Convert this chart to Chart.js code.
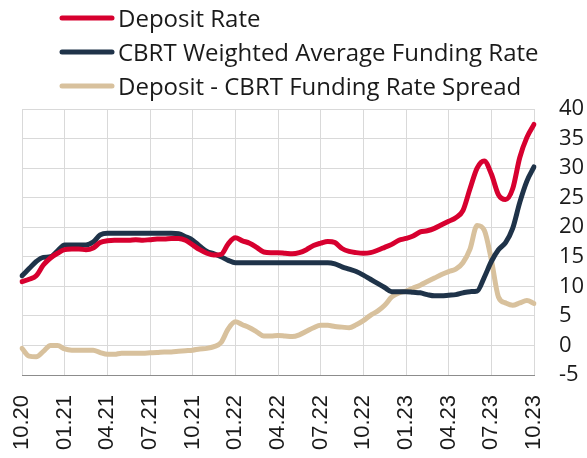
<!DOCTYPE html>
<html>
<head>
<meta charset="utf-8">
<script src="https://cdn.jsdelivr.net/npm/chart.js@4"></script>
<style>
    body { margin: 0; background: #fff; }
    canvas { display: block; }
</style>
</head>
<body>
<canvas id="rateChart" width="587" height="458"></canvas>
<script>
// Half-month observations, 10.20 - 10.23
const periods = [
    '01.10.20', '16.10.20', '01.11.20', '16.11.20', '01.12.20', '16.12.20',
    '01.01.21', '16.01.21', '01.02.21', '16.02.21', '01.03.21', '16.03.21',
    '01.04.21', '16.04.21', '01.05.21', '16.05.21', '01.06.21', '16.06.21',
    '01.07.21', '16.07.21', '01.08.21', '16.08.21', '01.09.21', '16.09.21',
    '01.10.21', '16.10.21', '01.11.21', '16.11.21', '01.12.21', '16.12.21',
    '01.01.22', '16.01.22', '01.02.22', '16.02.22', '01.03.22', '16.03.22',
    '01.04.22', '16.04.22', '01.05.22', '16.05.22', '01.06.22', '16.06.22',
    '01.07.22', '16.07.22', '01.08.22', '16.08.22', '01.09.22', '16.09.22',
    '01.10.22', '16.10.22', '01.11.22', '16.11.22', '01.12.22', '16.12.22',
    '01.01.23', '16.01.23', '01.02.23', '16.02.23', '01.03.23', '16.03.23',
    '01.04.23', '16.04.23', '01.05.23', '16.05.23', '01.06.23', '16.06.23',
    '01.07.23', '16.07.23', '01.08.23', '16.08.23', '01.09.23', '16.09.23',
    '01.10.23'
];

const tickLabels = ['10.20', '01.21', '04.21', '07.21', '10.21', '01.22', '04.22',
    '07.22', '10.22', '01.23', '04.23', '07.23', '10.23'];

const depositRate = [
    10.8, 11.2, 11.8, 13.6, 14.8, 15.6, 16.2, 16.3, 16.3, 16.2,
    16.5, 17.4, 17.7, 17.8, 17.8, 17.8, 17.9, 17.8, 17.9, 18.0,
    18.0, 18.1, 18.1, 17.8, 17.0, 16.2, 15.6, 15.3, 15.4, 17.2,
    18.2, 17.7, 17.3, 16.6, 15.8, 15.7, 15.7, 15.6, 15.5, 15.7,
    16.2, 16.9, 17.3, 17.6, 17.4, 16.4, 15.9, 15.7, 15.6, 15.7,
    16.1, 16.6, 17.1, 17.8, 18.1, 18.5, 19.2, 19.4, 19.8, 20.4,
    21.0, 21.6, 22.8, 26.5, 30.0, 31.2, 29.0, 25.5, 24.7, 26.5,
    31.8, 35.2, 37.4
];

const fundingRate = [
    11.8, 13.0, 14.2, 14.9, 15.0, 16.0, 17.0, 17.0, 17.0, 17.0,
    17.5, 18.7, 19.0, 19.0, 19.0, 19.0, 19.0, 19.0, 19.0, 19.0,
    19.0, 19.0, 18.9, 18.4, 17.8, 16.8, 15.9, 15.5, 15.0, 14.4,
    14.0, 14.0, 14.0, 14.0, 14.0, 14.0, 14.0, 14.0, 14.0, 14.0,
    14.0, 14.0, 14.0, 14.0, 13.8, 13.3, 12.9, 12.5, 11.9, 11.2,
    10.5, 9.8, 9.1, 9.1, 9.1, 9.0, 8.9, 8.6, 8.4, 8.4,
    8.5, 8.6, 8.9, 9.1, 9.2, 11.5, 14.2, 16.2, 17.4, 19.8,
    24.2, 27.8, 30.2
];

const rateSpread = [
    -0.5, -1.8, -1.9, -1.0, 0.0, 0.0, -0.6, -0.8, -0.8, -0.8,
    -0.8, -1.2, -1.5, -1.5, -1.3, -1.3, -1.3, -1.3, -1.25, -1.2,
    -1.1, -1.1, -1.0, -0.9, -0.8, -0.6, -0.5, -0.2, 0.5, 2.8,
    4.0, 3.5, 3.0, 2.3, 1.6, 1.6, 1.7, 1.6, 1.5, 1.8,
    2.4, 3.0, 3.4, 3.4, 3.2, 3.1, 3.0, 3.5, 4.2, 5.1,
    5.8, 6.8, 8.2, 8.9, 9.2, 9.7, 10.2, 10.8, 11.4, 12.0,
    12.5, 12.9, 14.0, 16.3, 20.3, 19.5, 14.5, 8.2, 7.2, 6.8,
    7.2, 7.6, 7.1
];

// Legend drawn as a left aligned column above the plot
const columnLegend = {
    id: 'columnLegend',
    afterDraw(chart) {
        const ctx = chart.ctx;
        ctx.save();
        ctx.font = '24px "Open Sans"';
        ctx.textBaseline = 'alphabetic';
        ctx.lineCap = 'round';
        chart.data.datasets.forEach((ds, i) => {
            const y = 18 + i * 34;
            ctx.strokeStyle = ds.borderColor;
            ctx.lineWidth = 5;
            ctx.beginPath();
            ctx.moveTo(62, y);
            ctx.lineTo(112, y);
            ctx.stroke();
            ctx.fillStyle = '#1a1a1a';
            ctx.fillText(ds.label, 118, y + 8.5);
        });
        ctx.restore();
    }
};

function makeLine(label, data, color) {
    return {
        label: label,
        data: data,
        borderColor: color,
        backgroundColor: color,
        borderWidth: 5,
        pointRadius: 0,
        tension: 0.4,
        cubicInterpolationMode: 'monotone',
        borderCapStyle: 'round',
        borderJoinStyle: 'round',
        fill: false
    };
}

new Chart(document.getElementById('rateChart'), {
    type: 'line',
    data: {
        labels: periods,
        datasets: [
            makeLine('Deposit Rate', depositRate, '#d7002f'),
            makeLine('CBRT Weighted Average Funding Rate', fundingRate, '#1f3349'),
            makeLine('Deposit - CBRT Funding Rate Spread', rateSpread, '#d8c19d')
        ]
    },
    options: {
        responsive: false,
        animation: false,
        layout: { padding: { top: 109, left: 22, right: 0, bottom: 8 } },
        plugins: {
            legend: { display: false },
            tooltip: { enabled: false }
        },
        scales: {
            x: {
                offset: false,
                grid: {
                    color: c => (c.index % 6 === 0 ? '#d9d9d9' : 'rgba(0,0,0,0)'),
                    drawTicks: false
                },
                border: { color: '#8c8c8c', width: 1 },
                ticks: {
                    autoSkip: false,
                    minRotation: 90,
                    maxRotation: 90,
                    padding: 20,
                    color: '#1a1a1a',
                    font: { family: '"Liberation Sans", Arial', size: 22 },
                    callback: (value, index) => (index % 6 === 0 ? tickLabels[index / 6] : '')
                },
                afterFit: scale => { scale.height = 75; }
            },
            y: {
                position: 'right',
                min: -5,
                max: 40,
                grid: { color: '#d9d9d9', drawTicks: false },
                border: { display: false },
                ticks: {
                    stepSize: 5,
                    autoSkip: false,
                    padding: 25,
                    color: '#1a1a1a',
                    font: { family: '"Open Sans"', size: 22 }
                },
                afterFit: scale => { scale.width = 53; }
            }
        }
    },
    plugins: [columnLegend]
});
</script>
</body>
</html>
